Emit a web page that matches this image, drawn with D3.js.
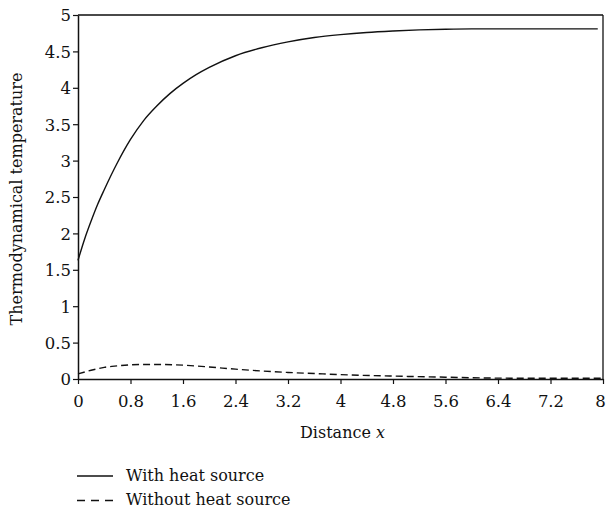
<!DOCTYPE html>
<html>
<head>
<meta charset="utf-8">
<script src="https://cdn.jsdelivr.net/npm/d3@7"></script>
<style>
  body { margin: 0; background: #fff; }
  text { font-family: "DejaVu Serif", "Liberation Serif", serif; fill: #111; }
</style>
</head>
<body>
<script>
// Dados
const xWith = [0, 0.1, 0.2, 0.3, 0.4, 0.6, 0.8, 1.0, 1.2, 1.4, 1.6, 1.8, 2.0, 2.4, 2.8, 3.2, 3.6, 4.0, 4.4, 4.8, 5.2, 5.6, 6.0, 6.4, 7.2, 7.92];
const yWith = [1.63, 1.92, 2.17, 2.4, 2.6, 2.97, 3.29, 3.55, 3.75, 3.92, 4.06, 4.18, 4.28, 4.44, 4.55, 4.63, 4.69, 4.73, 4.76, 4.78, 4.795, 4.805, 4.81, 4.81, 4.81, 4.81];
const xWithout = [0, 0.2, 0.4, 0.6, 0.8, 1.0, 1.2, 1.6, 2.0, 2.4, 2.8, 3.2, 3.6, 4.0, 4.8, 5.6, 6.4, 7.2, 8.0];
const yWithout = [0.07, 0.12, 0.16, 0.18, 0.195, 0.2, 0.2, 0.19, 0.165, 0.135, 0.11, 0.09, 0.075, 0.06, 0.04, 0.025, 0.012, 0.01, 0.01];
const xTicks = [0, 0.8, 1.6, 2.4, 3.2, 4, 4.8, 5.6, 6.4, 7.2, 8];
const yTicks = [0, 0.5, 1, 1.5, 2, 2.5, 3, 3.5, 4, 4.5, 5];
const seriesNames = ["With heat source", "Without heat source"];

// Dimensoes
const W = 607, H = 508;
const margin = {top: 15, right: 4, bottom: 129, left: 78};
const width = W - margin.left - margin.right,
      height = H - margin.top - margin.bottom;

const svg = d3.select("body").append("svg")
  .attr("width", W)
  .attr("height", H);

const g = svg.append("g")
  .attr("transform", "translate(" + margin.left + "," + margin.top + ")");

const x = d3.scaleLinear().domain([0, 8]).range([0, width]);
const y = d3.scaleLinear().domain([0, 5]).range([height, 0]);

// Moldura superior e direita
g.append("line")
  .attr("x1", 0).attr("x2", width).attr("y1", 0).attr("y2", 0)
  .style("stroke", "#4a4a4a").style("stroke-width", 2);
g.append("line")
  .attr("x1", width).attr("x2", width).attr("y1", 0).attr("y2", height)
  .style("stroke", "#111").style("stroke-width", 1.3);

// Eixos
const fmt = d => String(d);
const xAxis = g.append("g")
  .attr("transform", "translate(0," + height + ")")
  .call(d3.axisBottom(x).tickValues(xTicks).tickFormat(fmt).tickSize(5).tickSizeOuter(0));
const yAxis = g.append("g")
  .call(d3.axisLeft(y).tickValues(yTicks).tickFormat(fmt).tickSize(5).tickSizeOuter(0));

[xAxis, yAxis].forEach(a => {
  a.select(".domain").style("stroke", "#111").style("stroke-width", 1.5);
  a.selectAll(".tick line").style("stroke", "#111").style("stroke-width", 1.2);
  a.selectAll(".tick text")
    .style("font-family", "'DejaVu Serif', serif")
    .style("font-size", "16.5px")
    .style("fill", "#111");
});
xAxis.selectAll(".tick text").attr("dy", "0").attr("y", 28)
  .attr("x", d => d === 8 ? -3 : 0);
yAxis.selectAll(".tick text").attr("x", -7).attr("dy", "0.36em");

// Linhas
const line = d3.line().x(d => x(d[0])).y(d => y(d[1])).curve(d3.curveMonotoneX);

g.append("path")
  .datum(d3.zip(xWith, yWith))
  .attr("d", line)
  .style("fill", "none").style("stroke", "#111").style("stroke-width", 1.4);

g.append("path")
  .datum(d3.zip(xWithout, yWithout))
  .attr("d", line)
  .style("fill", "none").style("stroke", "#111").style("stroke-width", 1.4)
  .style("stroke-dasharray", "7,4");

// Titulos dos eixos
const xLabel = svg.append("text")
  .attr("x", margin.left + width / 2 + 2)
  .attr("y", 438)
  .attr("text-anchor", "middle")
  .style("font-size", "16px");
xLabel.append("tspan").text("Distance ");
xLabel.append("tspan").style("font-style", "italic").text("x");

svg.append("text")
  .attr("transform", "translate(22,199) rotate(-90)")
  .attr("text-anchor", "middle")
  .style("font-size", "16px")
  .text("Thermodynamical temperature");

// Legenda
const legend = svg.append("g").attr("transform", "translate(77,476)");
seriesNames.forEach((name, i) => {
  const row = legend.append("g").attr("transform", "translate(0," + i * 24.5 + ")");
  row.append("line")
    .attr("x1", 0).attr("x2", 36).attr("y1", 0).attr("y2", 0)
    .style("stroke", "#111").style("stroke-width", 1.3)
    .style("stroke-dasharray", i === 1 ? "8,6" : null);
  row.append("text")
    .attr("x", 49).attr("y", 4.5)
    .style("font-size", "16px")
    .text(name);
});
</script>
</body>
</html>
